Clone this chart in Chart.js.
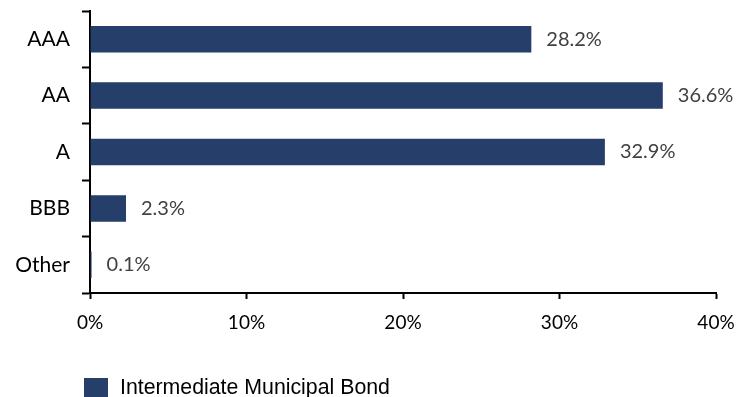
<!DOCTYPE html>
<html>
<head>
<meta charset="UTF-8">
<title>Intermediate Municipal Bond - credit quality</title>
<script src="https://cdn.jsdelivr.net/npm/chart.js"></script>
<style>
  body { margin: 0; background: #fff; }
  #wrap { width: 741px; height: 397px; }
</style>
</head>
<body>
<div id="wrap"><canvas id="ratingChart" width="741" height="397"></canvas></div>
<script>
// datos
const ratings = ['AAA', 'AA', 'A', 'BBB', 'Other'];
const weights = [28.2, 36.6, 32.9, 2.3, 0.1];
const xTicks = [0, 10, 20, 30, 40];
const seriesName = 'Intermediate Municipal Bond';

const barColor = '#253e6a';

// etiquetas de valor al final de cada barra
const valueLabels = {
  id: 'valueLabels',
  afterDatasetsDraw(chart) {
    const ctx = chart.ctx;
    const meta = chart.getDatasetMeta(0);
    ctx.save();
    ctx.font = '20px Lato';
    ctx.fillStyle = '#404040';
    ctx.textBaseline = 'middle';
    ctx.textAlign = 'left';
    meta.data.forEach((bar, i) => {
      ctx.fillText(weights[i].toFixed(1) + '%', bar.x + 15, bar.y);
    });
    ctx.restore();
  }
};

// leyenda simple abajo a la izquierda
const bottomLegend = {
  id: 'bottomLegend',
  afterDraw(chart) {
    const ctx = chart.ctx;
    const ds = chart.data.datasets[0];
    ctx.save();
    ctx.fillStyle = ds.backgroundColor;
    ctx.fillRect(84, 378, 24, 20);
    ctx.font = '21.3px "Liberation Sans"';
    ctx.fillStyle = '#000';
    ctx.textBaseline = 'middle';
    ctx.fillText(ds.label, 120, 388);
    ctx.restore();
  }
};

const ctx = document.getElementById('ratingChart');

const ratingChart = new Chart(ctx, {
  type: 'bar',
  data: {
    labels: ratings,
    datasets: [{
      label: seriesName,
      data: weights,
      backgroundColor: barColor,
      borderWidth: 0,
      barPercentage: 0.47,
      categoryPercentage: 1
    }]
  },
  options: {
    indexAxis: 'y',
    responsive: false,
    animation: false,
    layout: {
      padding: { top: 0, right: 0, bottom: 54, left: 0 }
    },
    plugins: {
      legend: { display: false },
      tooltip: { enabled: false }
    },
    scales: {
      x: {
        min: 0,
        max: 40,
        afterBuildTicks: s => { s.ticks = xTicks.map(v => ({ value: v })); },
        afterFit: s => { s.height = 50; s.paddingRight = 25; },
        grid: {
          drawOnChartArea: false,
          drawTicks: true,
          tickLength: 6,
          tickColor: '#000',
          tickWidth: 2
        },
        border: { display: true, color: '#000', width: 2 },
        ticks: {
          color: '#000',
          padding: 12,
          font: { family: 'Lato', size: 19 },
          callback: v => v + '%'
        }
      },
      y: {
        afterFit: s => { s.width = 90; s.paddingTop = 11; s.paddingBottom = 0; },
        grid: {
          offset: true,
          drawOnChartArea: false,
          drawTicks: true,
          tickLength: 8,
          tickColor: '#000',
          tickWidth: 2
        },
        border: { display: true, color: '#000', width: 2 },
        ticks: {
          color: '#000',
          padding: 12,
          font: { family: 'Lato', size: 21 }
        }
      }
    }
  },
  plugins: [valueLabels, bottomLegend]
});
</script>
</body>
</html>
